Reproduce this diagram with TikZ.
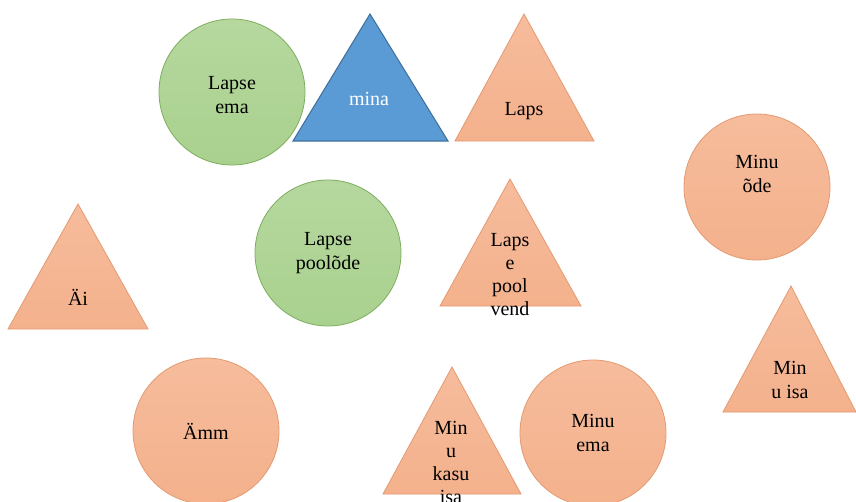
\documentclass[tikz,border=0pt]{standalone}
\usepackage{fontspec}
\setmainfont{Liberation Serif}
\definecolor{orfill}{HTML}{F4B18C}
\definecolor{ortop}{HTML}{F6BC9C}
\definecolor{orline}{HTML}{E39A72}
\definecolor{grfill}{HTML}{A9D18E}
\definecolor{grline}{HTML}{7DAE5E}
\definecolor{blfill}{HTML}{5B9BD5}
\definecolor{blline}{HTML}{41719C}
\tikzset{
  orshape/.style={top color=ortop, bottom color=orfill, draw=orline, line width=0.6pt},
  grshape/.style={top color=grfill!85!white, bottom color=grfill, draw=grline, line width=0.6pt},
  blshape/.style={fill=blfill, draw=blline, line width=0.8pt},
  lbl/.style={align=center, font=\rmfamily\fontsize{15pt}{18pt}\selectfont, inner sep=0pt, text=black},
  tall/.style={font=\rmfamily\fontsize{15pt}{17.25pt}\selectfont},
}
\begin{document}
\begin{tikzpicture}[x=0.75pt,y=-0.75pt]
\useasboundingbox (0,0) rectangle (856,501);
\fill[white] (0,0) rectangle (856,501);
% circles
\draw[grshape] (232,92) circle (73);
\draw[grshape] (328,253) circle (73);
\draw[orshape] (757,187) circle (73);
\draw[orshape] (206,431) circle (73);
\draw[orshape] (593,433) circle (73);
% triangles
\draw[blshape] (370,14) -- (448,141) -- (293,141) -- cycle;
\draw[orshape] (524,14) -- (594,141) -- (455,141) -- cycle;
\draw[orshape] (510,179) -- (581,306) -- (440,306) -- cycle;
\draw[orshape] (78,204) -- (148,329) -- (8,329) -- cycle;
\draw[orshape] (791,286) -- (856,412) -- (723,412) -- cycle;
\draw[orshape] (452,367) -- (521,494) -- (383,494) -- cycle;
% labels
\node[lbl] (lapseema) at (232,95) {Lapse\\ema};
\node[lbl, text=white] (mina) at (369,99) {mina};
\node[lbl] (laps) at (524,111) {Laps};
\node[lbl] (minuode) at (757,174) {Minu\\õde};
\node[lbl] (poolode) at (328,253) {Lapse\\poolõde};
\node[lbl, tall] (poolvend) at (510,275) {Laps\\e\\pool\\vend};
\node[lbl] (ai) at (78,297) {Äi};
\node[lbl] (minuisa) at (790,380) {Min\\u isa};
\node[lbl] (amm) at (206,431) {Ämm};
\node[lbl, tall] (kasuisa) at (451,462) {Min\\u\\kasu\\isa};
\node[lbl] (minuema) at (593,433) {Minu\\ema};
\end{tikzpicture}
\end{document}
